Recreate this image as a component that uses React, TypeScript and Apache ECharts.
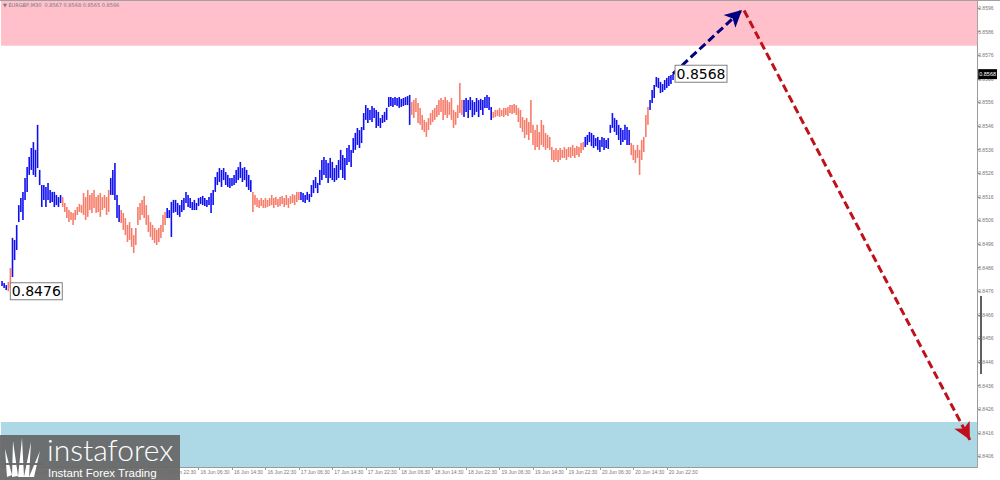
import React, { useEffect, useRef } from "react";
import * as echarts from "echarts";

// ---------- data ----------
const headerText = "▼ EURGBP,M30  0.8567 0.8568 0.8565 0.8566";
const slotCount = 467; // 30-minute slots on the time axis (incl. empty future area)

// [high, low] of each M30 bar
const hiLo: [number, number][] = [
  [0.84803, 0.84782], [0.84795, 0.84774], [0.84786, 0.84765], [0.84799, 0.8476], [0.84858, 0.84774],
  [0.84986, 0.8482], [0.84977, 0.84892], [0.85041, 0.84935], [0.85125, 0.85053], [0.85155, 0.85096],
  [0.85181, 0.85062], [0.8524, 0.85147], [0.85286, 0.85181], [0.85329, 0.85253], [0.85367, 0.85274],
  [0.85392, 0.85253], [0.85359, 0.85244], [0.85465, 0.85282], [0.85274, 0.8521], [0.8521, 0.85117],
  [0.8521, 0.85147], [0.85202, 0.85117], [0.85219, 0.85147], [0.85189, 0.85134], [0.85181, 0.85138],
  [0.85181, 0.85117], [0.85168, 0.85125], [0.85159, 0.85117], [0.85168, 0.85134], [0.85159, 0.85117],
  [0.85134, 0.85096], [0.85117, 0.8507], [0.85104, 0.85053], [0.85096, 0.85062], [0.85092, 0.85041],
  [0.85104, 0.85062], [0.85117, 0.85083], [0.8513, 0.85096], [0.85125, 0.85092], [0.85176, 0.85083],
  [0.85159, 0.85062], [0.85189, 0.85075], [0.85168, 0.85104], [0.85176, 0.85092], [0.85189, 0.85113],
  [0.85159, 0.85092], [0.85168, 0.85096], [0.85176, 0.85075], [0.85159, 0.85104], [0.85168, 0.85113],
  [0.85159, 0.85083], [0.85189, 0.85096], [0.8524, 0.85168], [0.85274, 0.85168], [0.85303, 0.85147],
  [0.85168, 0.8507], [0.85125, 0.85053], [0.85104, 0.85049], [0.85092, 0.8502], [0.8507, 0.84998],
  [0.85041, 0.84969], [0.85053, 0.84977], [0.85028, 0.84948], [0.84998, 0.84922], [0.85028, 0.84956],
  [0.85117, 0.85041], [0.85134, 0.85062], [0.85147, 0.85083], [0.85164, 0.8507], [0.85125, 0.85041],
  [0.85083, 0.85011], [0.85053, 0.8499], [0.85041, 0.84977], [0.85028, 0.84964], [0.8502, 0.84956],
  [0.85028, 0.84969], [0.85041, 0.84986], [0.85083, 0.85011], [0.85096, 0.85041], [0.85113, 0.8507],
  [0.85104, 0.8507], [0.85138, 0.8499], [0.85147, 0.85092], [0.85147, 0.85096], [0.85134, 0.85083],
  [0.85125, 0.85075], [0.85147, 0.85096], [0.85155, 0.85104], [0.85181, 0.85134], [0.85168, 0.85117],
  [0.85155, 0.85113], [0.85138, 0.85104], [0.85147, 0.85104], [0.85134, 0.85104], [0.85155, 0.85121],
  [0.85159, 0.8513], [0.85164, 0.85125], [0.85155, 0.85121], [0.85147, 0.85117], [0.85159, 0.85125],
  [0.85176, 0.85092], [0.85189, 0.85125], [0.85244, 0.85181], [0.85265, 0.8521], [0.85282, 0.85223],
  [0.85274, 0.85202], [0.85282, 0.85231], [0.85265, 0.8521], [0.85253, 0.85202], [0.8524, 0.85197],
  [0.8524, 0.85206], [0.85253, 0.8521], [0.85274, 0.85219], [0.85286, 0.85231], [0.85308, 0.8524],
  [0.85282, 0.85223], [0.85286, 0.85231], [0.85274, 0.85202], [0.85253, 0.85189], [0.85231, 0.85181],
  [0.85181, 0.85096], [0.85168, 0.85125], [0.85155, 0.85117], [0.85147, 0.85113], [0.85155, 0.85121],
  [0.85147, 0.85113], [0.85155, 0.85113], [0.85147, 0.85117], [0.85155, 0.85121], [0.85168, 0.85125],
  [0.85155, 0.85113], [0.85159, 0.85125], [0.85151, 0.85117], [0.85159, 0.85121], [0.85164, 0.8513],
  [0.85155, 0.85117], [0.85168, 0.85125], [0.85155, 0.85113], [0.85164, 0.8513], [0.85172, 0.85134],
  [0.85168, 0.85125], [0.85181, 0.85138], [0.85181, 0.85147], [0.85181, 0.85147], [0.85176, 0.85138],
  [0.85168, 0.85134], [0.85181, 0.85147], [0.85172, 0.85138], [0.8521, 0.85159], [0.85231, 0.85176],
  [0.85244, 0.85197], [0.85219, 0.85176], [0.85274, 0.8521], [0.85316, 0.85231], [0.85329, 0.85253],
  [0.85316, 0.8524], [0.85303, 0.85219], [0.85325, 0.8524], [0.85308, 0.85231], [0.85282, 0.85223],
  [0.85295, 0.85231], [0.85316, 0.8524], [0.85359, 0.85274], [0.85337, 0.8524], [0.85325, 0.85231],
  [0.85367, 0.85295], [0.8538, 0.85308], [0.85359, 0.85286], [0.85409, 0.85346], [0.85431, 0.85359],
  [0.85452, 0.8538], [0.85443, 0.85367], [0.85456, 0.85388], [0.85515, 0.85443], [0.85549, 0.85486],
  [0.85537, 0.85473], [0.85528, 0.85486], [0.85545, 0.85477], [0.85537, 0.85494], [0.85528, 0.85452],
  [0.8552, 0.8546], [0.85494, 0.85452], [0.85507, 0.85473], [0.8552, 0.85477], [0.85537, 0.85486],
  [0.85583, 0.85541], [0.85583, 0.85545], [0.85579, 0.85541], [0.85583, 0.85549], [0.85579, 0.85545],
  [0.85583, 0.85537], [0.85575, 0.85541], [0.85579, 0.85545], [0.85583, 0.85549], [0.85587, 0.85549],
  [0.85592, 0.85465], [0.85562, 0.85507], [0.8557, 0.85494], [0.85579, 0.8552], [0.85558, 0.85473],
  [0.85537, 0.85465], [0.85507, 0.85443], [0.85486, 0.85435], [0.85477, 0.85414], [0.85494, 0.85443],
  [0.85515, 0.85465], [0.85528, 0.85477], [0.85537, 0.85486], [0.85549, 0.85498], [0.8557, 0.85507],
  [0.85579, 0.8552], [0.8557, 0.85486], [0.85583, 0.85507], [0.8557, 0.85494], [0.85562, 0.85507],
  [0.85579, 0.85486], [0.85528, 0.85452], [0.8552, 0.85465], [0.85549, 0.85494], [0.85642, 0.85515],
  [0.8557, 0.85507], [0.8557, 0.85498], [0.85579, 0.8552], [0.8557, 0.85494], [0.85583, 0.85528],
  [0.8557, 0.85498], [0.85562, 0.85507], [0.85579, 0.8552], [0.8557, 0.85498], [0.85575, 0.85528],
  [0.8557, 0.85507], [0.85583, 0.85537], [0.85592, 0.85537], [0.85583, 0.85528], [0.85541, 0.85486],
  [0.8552, 0.85494], [0.85528, 0.85498], [0.85528, 0.85503], [0.85537, 0.85498], [0.85528, 0.85503],
  [0.85537, 0.85498], [0.85537, 0.85507], [0.85541, 0.85503], [0.85549, 0.85515], [0.85549, 0.85511],
  [0.85553, 0.85515], [0.85549, 0.85507], [0.85537, 0.85477], [0.85528, 0.85452], [0.85498, 0.85435],
  [0.85486, 0.85409], [0.85494, 0.85422], [0.85477, 0.85401], [0.8557, 0.85431], [0.85465, 0.8538],
  [0.85443, 0.85359], [0.85465, 0.85371], [0.85435, 0.85359], [0.85486, 0.8538], [0.85465, 0.85371],
  [0.85431, 0.85359], [0.85422, 0.85367], [0.85414, 0.85359], [0.85371, 0.85316], [0.85359, 0.85308],
  [0.85367, 0.85316], [0.85359, 0.85308], [0.85367, 0.85316], [0.85359, 0.85325], [0.85371, 0.85325],
  [0.85363, 0.85316], [0.85371, 0.85329], [0.85371, 0.85325], [0.8538, 0.85333], [0.85367, 0.85325],
  [0.85375, 0.85337], [0.85371, 0.85329], [0.85388, 0.85346], [0.85392, 0.85359], [0.85414, 0.85371],
  [0.85422, 0.8538], [0.85435, 0.85392], [0.85431, 0.85375], [0.85422, 0.85367], [0.85409, 0.85375],
  [0.85414, 0.85359], [0.85401, 0.8535], [0.85414, 0.85371], [0.85409, 0.85359], [0.85401, 0.85367],
  [0.85409, 0.85363], [0.85465, 0.85431], [0.85515, 0.85452], [0.85494, 0.85435], [0.85486, 0.85422],
  [0.85465, 0.85401], [0.85452, 0.8538], [0.85443, 0.85392], [0.85465, 0.85401], [0.85456, 0.8538],
  [0.85443, 0.8538], [0.85388, 0.85337], [0.8538, 0.85316], [0.85359, 0.85303], [0.8538, 0.85325],
  [0.85359, 0.85253], [0.85401, 0.85316], [0.85414, 0.8535], [0.85507, 0.85414], [0.85541, 0.85465],
  [0.8557, 0.85528], [0.85613, 0.85558], [0.85634, 0.85579], [0.85668, 0.85626], [0.85664, 0.85621],
  [0.85647, 0.856], [0.85638, 0.85604], [0.85655, 0.85613], [0.85664, 0.85621], [0.85672, 0.8563],
  [0.85676, 0.85638], [0.85682, 0.85655],
];

// first bar of every wave and its direction (1 = up, 0 = down)
const waveStarts = [0, 3, 5, 29, 52, 57, 79, 120, 143, 196, 221, 235, 279, 301, 310];
const waveDirs = [1, 0, 1, 0, 1, 0, 1, 0, 1, 0, 1, 0, 1, 0, 1];

const tickLabels = [
  "14 Jun 14:30", "14 Jun 22:30", "15 Jun 06:30", "15 Jun 14:30", "15 Jun 22:30",
  "16 Jun 06:30", "16 Jun 14:30", "16 Jun 22:30", "17 Jun 06:30", "17 Jun 14:30",
  "17 Jun 22:30", "18 Jun 06:30", "18 Jun 14:30", "18 Jun 22:30", "19 Jun 06:30",
  "19 Jun 14:30", "19 Jun 22:30", "20 Jun 06:30", "20 Jun 14:30", "20 Jun 22:30",
];
const firstTickBar = 14;
const barsPerTick = 16;

const priceTicks = [
  0.8406, 0.8416, 0.8426, 0.8436, 0.8446, 0.8456, 0.8466, 0.8476, 0.8486, 0.8496,
  0.8506, 0.8516, 0.8526, 0.8536, 0.8546, 0.8556, 0.8566, 0.8576, 0.8586, 0.8596,
];
const priceRange = [0.84015, 0.8599];
const resistanceZone = [0.858, 0.8599];
const supportZone = [0.84015, 0.84206];
const forecastUp: [number, number][] = [[321, 0.85682], [354, 0.85952]];
const forecastDown: [number, number][] = [[355, 0.8595], [463, 0.8413]];
const extremeMarks: { label: string; at: [number, number] }[] = [
  { label: "0.8476", at: [3, 0.8476] },
  { label: "0.8568", at: [321, 0.85682] },
];
const lastPrice = 0.8568;

// ---------- styles ----------
const UP = "#0f0ff2";
const DOWN = "#f77c6a";
const AXIS = "#9a9a9a";
const LOGO_BG = "rgba(104,104,104,0.94)";

function dirOf(i: number): number {
  let d = waveDirs[0];
  for (let k = 0; k < waveStarts.length; k++) if (i >= waveStarts[k]) d = waveDirs[k];
  return d;
}
function tickIdx(i: number): number {
  const k = (i - firstTickBar) / barsPerTick;
  return Number.isInteger(k) && k >= 0 && k < tickLabels.length ? k : -1;
}

export default function App() {
  const ref = useRef<HTMLDivElement>(null);
  useEffect(() => {
    if (!ref.current) return;
    const chart = echarts.init(ref.current, undefined, { renderer: "svg" });
    const barData = hiLo.map((d, i) => [i, d[0], d[1], dirOf(i)]);
    const hidden = {
      type: "line" as const,
      data: hiLo.map((d) => d[0]),
      symbol: "none",
      silent: true,
      lineStyle: { opacity: 0 },
    };
    const arrowLine = (pts: [number, number][], color: string) => ({
      symbol: ["none", "arrow"],
      symbolSize: [13, 17],
      silent: true,
      label: { show: false },
      lineStyle: { color, width: 3, type: [8, 4], opacity: 1 },
      data: [[{ coord: pts[0] }, { coord: pts[1] }]],
    });
    const TOP = 100;
    const option: any = {
      animation: false,
      grid: { left: 1, right: 19, top: 1, bottom: 13 },
      xAxis: {
        type: "category",
        data: Array.from({ length: slotCount }, (_, i) => String(i)),
        boundaryGap: true,
        axisLine: { lineStyle: { color: AXIS } },
        axisTick: {
          show: true,
          alignWithLabel: true,
          interval: (i: number) => tickIdx(i) >= 0,
          length: 3,
          lineStyle: { color: AXIS },
        },
        axisLabel: {
          interval: (i: number) => tickIdx(i) >= 0,
          formatter: (_v: string, i: number) => (tickIdx(i) >= 0 ? tickLabels[tickIdx(i)] : ""),
          align: "left",
          margin: 2,
          padding: [0, 0, 0, 2],
          fontSize: 5,
          fontFamily: "Liberation Sans",
          color: "#777",
        },
        splitLine: { show: false },
      },
      yAxis: {
        type: "value",
        position: "right",
        min: priceRange[0],
        max: priceRange[1],
        axisLine: { show: true, lineStyle: { color: AXIS } },
        axisTick: { show: true, customValues: priceTicks, length: 3, lineStyle: { color: AXIS } },
        axisLabel: {
          customValues: [...priceTicks, lastPrice],
          formatter: (v: number) =>
            Math.abs(v - lastPrice) < 1e-9 ? `{tag|${v.toFixed(4)}}` : v.toFixed(4),
          fontSize: 5,
          fontFamily: "Liberation Sans",
          color: "#777",
          margin: 1,
          rich: {
            tag: {
              backgroundColor: "#000",
              color: "#fff",
              fontSize: 5.5,
              fontFamily: "Liberation Sans",
              padding: [2, 1, 2, 1],
            },
          },
        },
        splitLine: { show: false },
      },
      series: [
        {
          ...hidden,
          z: 1,
          markArea: {
            silent: true,
            data: [
              [{ yAxis: resistanceZone[0], itemStyle: { color: "#ffc0cb" } }, { yAxis: resistanceZone[1] }],
              [{ yAxis: supportZone[0], itemStyle: { color: "#add8e6" } }, { yAxis: supportZone[1] }],
            ],
          },
        },
        {
          type: "custom",
          z: 2,
          silent: true,
          data: barData,
          encode: { x: 0, y: [1, 2] },
          renderItem: (_p: any, api: any) => {
            const i = api.value(0);
            const a = api.coord([i, api.value(1)]);
            const b = api.coord([i, api.value(2)]);
            return {
              type: "rect",
              shape: { x: a[0] - 0.8, y: a[1], width: 1.6, height: Math.max(1, b[1] - a[1]) },
              style: { fill: api.value(3) ? UP : DOWN },
            };
          },
        },
        { ...hidden, z: 4, markLine: arrowLine(forecastUp, "#000080") },
        { ...hidden, z: 4, markLine: arrowLine(forecastDown, "#c0111b") },
        {
          ...hidden,
          z: 5,
          markPoint: {
            silent: true,
            symbol: "circle",
            symbolSize: 1,
            itemStyle: { color: "rgba(0,0,0,0)" },
            label: {
              show: true,
              position: "right",
              distance: 2,
              formatter: "{b}",
              color: "#000",
              fontSize: 14,
              fontFamily: "DejaVu Sans",
              backgroundColor: "#fff",
              borderColor: "#808080",
              borderWidth: 1,
              padding: [2, 1, 0, 1],
            },
            data: extremeMarks.map((m) => ({ name: m.label, coord: m.at })),
          },
        },
      ],
      graphic: [
        { type: "rect", x: 0, y: 0, z: TOP, shape: { width: 1000, height: 1 }, style: { fill: "#a0a0a0" } },
        {
          type: "text",
          x: 3,
          y: 2,
          z: TOP,
          style: { text: headerText, fontSize: 5, fontFamily: "DejaVu Sans", fill: "#777" },
        },
        { type: "rect", x: 980, y: 296, z: TOP, shape: { width: 2, height: 78 }, style: { fill: "#606060" } },
        {
          type: "group",
          x: 0,
          y: 435,
          z: TOP,
          children: [
            { type: "rect", z: TOP, shape: { x: 0, y: 0, width: 180, height: 45 }, style: { fill: LOGO_BG } },
            { type: "polygon", z: TOP + 1, shape: { points: [[7, 42], [5, 14], [12, 40]] }, style: { fill: "#fff" } },
            { type: "polygon", z: TOP + 1, shape: { points: [[12, 42], [13, 6], [18, 41]] }, style: { fill: "#fff" } },
            { type: "polygon", z: TOP + 1, shape: { points: [[18, 42], [22, 3], [24, 42]] }, style: { fill: "#fff" } },
            { type: "polygon", z: TOP + 1, shape: { points: [[24, 42], [31, 7], [29, 42]] }, style: { fill: "#fff" } },
            { type: "polygon", z: TOP + 1, shape: { points: [[29, 42], [40, 16], [34, 42]] }, style: { fill: "#fff" } },
            { type: "rect", z: TOP + 2, shape: { x: 4, y: 28, width: 38, height: 2 }, style: { fill: LOGO_BG } },
            {
              type: "text",
              x: 47,
              y: 14,
              z: TOP + 3,
              style: {
                text: "instaforex",
                verticalAlign: "middle",
                fontSize: 30,
                fontFamily: "Lato",
                fontWeight: 300,
                fill: "#fff",
              },
            },
            {
              type: "text",
              x: 48,
              y: 38,
              z: TOP + 3,
              style: {
                text: "Instant Forex Trading",
                verticalAlign: "middle",
                fontSize: 11.5,
                fontFamily: "Liberation Sans",
                fill: "#fff",
              },
            },
          ],
        },
      ],
    };
    chart.setOption(option);
    return () => chart.dispose();
  }, []);
  return (
    <div
      ref={ref}
      style={{ position: "fixed", left: 0, top: 0, width: 1000, height: 480, background: "#fff" }}
    />
  );
}
